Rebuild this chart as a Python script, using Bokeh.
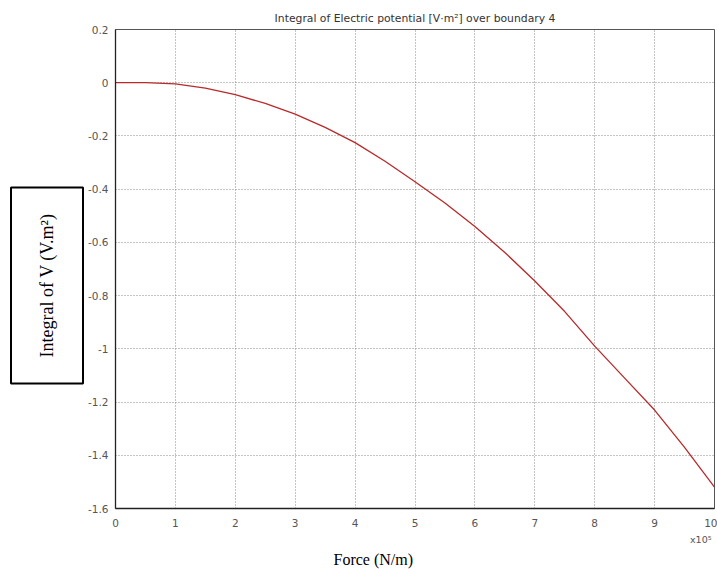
from bokeh.plotting import figure
from bokeh.models import Range1d, FixedTicker, Title, CustomJSTickFormatter
from bokeh.embed import file_html
from bokeh.resources import INLINE

# Force in units of 1e5 N/m
force_e5 = [0, 0.5, 1, 1.5, 2, 2.5, 3, 3.5, 4, 4.5, 5, 5.5, 6, 6.5, 7, 7.5, 8, 8.5, 9, 9.5, 10]
# Integral of electric potential [V*m^2]
integral_v = [0.0, 0.0, -0.004, -0.02, -0.045, -0.078, -0.118, -0.168, -0.225, -0.295, -0.372,
              -0.452, -0.54, -0.638, -0.745, -0.86, -0.99, -1.11, -1.23, -1.37, -1.52]

x_ticks = [0, 1, 2, 3, 4, 5, 6, 7, 8, 9, 10]
y_tick_labels = ["0.2", "0", "-0.2", "-0.4", "-0.6", "-0.8", "-1", "-1.2", "-1.4", "-1.6"]
y_ticks = [float(s) for s in y_tick_labels]

title_text = "Integral of Electric potential [V\u00b7m\u00b2] over boundary 4"
x_label = "Force (N/m)"
x_scale_note = "x10\u2075"
y_label = "Integral of V (V.m\u00b2)"

p = figure(width=717, height=569, output_backend="svg", toolbar_location=None,
           x_range=Range1d(0, 10), y_range=Range1d(-1.6, 0.2),
           min_border_left=115, min_border_right=3, min_border_top=29, min_border_bottom=60)
p.background_fill_color = "white"
p.border_fill_color = "white"
p.outline_line_color = "#555555"
p.outline_line_width = 1

tick_font = "DejaVu Sans"
for ax in (p.xaxis[0], p.yaxis[0]):
    ax.axis_line_color = "#222222"
    ax.axis_line_width = 1.3
    ax.major_tick_line_color = None
    ax.minor_tick_line_color = None
    ax.major_tick_out = 0
    ax.major_tick_in = 0
    ax.minor_tick_out = 0
    ax.major_label_text_font = tick_font
    ax.major_label_text_font_size = "10.5px"
    ax.major_label_text_color = "#555555"

p.xaxis.ticker = FixedTicker(ticks=x_ticks)
p.yaxis.ticker = FixedTicker(ticks=y_ticks)
p.yaxis.formatter = CustomJSTickFormatter(code="return String(parseFloat(tick.toFixed(2)));")
p.xaxis.major_label_standoff = 10
p.yaxis.major_label_standoff = 7

p.grid.grid_line_color = "#888888"
p.grid.grid_line_dash = "1 2"
p.grid.grid_line_width = 1

p.line(force_e5, integral_v, line_color="#b82a2a", line_width=1.3)

# Title
p.title.text = title_text
p.title.align = "center"
p.title.text_font = tick_font
p.title.text_font_size = "10.8px"
p.title.text_font_style = "normal"
p.title.text_color = "#333333"
p.title.standoff = 9

# x scale note and x label below
p.add_layout(Title(text=x_scale_note, align="right", offset=3, text_font=tick_font,
                   text_font_size="9.5px", text_font_style="normal", text_color="#555555",
                   vertical_align="top", standoff=8), "below")
p.add_layout(Title(text=x_label, align="left", offset=218, text_font="Liberation Serif",
                   text_font_size="16px", text_font_style="normal", text_color="#000000",
                   vertical_align="top", standoff=0), "below")

# y label in a box
p.add_layout(Title(text=y_label, align="left", offset=125, text_font="Liberation Serif",
                   text_font_size="18px", text_font_style="normal", text_color="#000000",
                   padding=26, border_line_color="#000000", border_line_width=2,
                   background_fill_color="white", standoff=5), "left")

open("out.html", "w").write(file_html(p, INLINE))
